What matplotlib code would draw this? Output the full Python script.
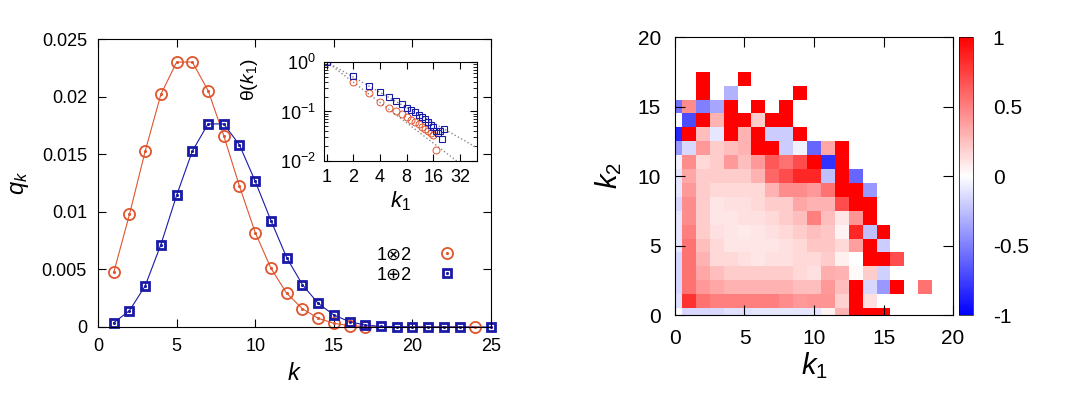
import numpy as np
import matplotlib
matplotlib.use('Agg')
import matplotlib.pyplot as plt
from matplotlib.ticker import FixedLocator, LogLocator, NullFormatter

plt.rcParams['font.family'] = ['Liberation Sans', 'DejaVu Sans']
plt.rcParams['mathtext.fontset'] = 'custom'
plt.rcParams['mathtext.rm'] = 'Liberation Sans'
plt.rcParams['mathtext.it'] = 'Liberation Sans:italic'

# Data: degree distributions q_k
k_otimes = [1, 2, 3, 4, 5, 6, 7, 8, 9, 10, 11, 12, 13, 14, 15, 16, 17, 24]
q_otimes = [0.00474, 0.00977, 0.01527, 0.0202, 0.0230, 0.0230, 0.02053, 0.0166,
            0.01222, 0.0082, 0.0051, 0.00293, 0.00159, 0.00076, 0.00032,
            0.00012, 0.00003, 0.0]
k_oplus = [1, 2, 3, 4, 5, 6, 7, 8, 9, 10, 11, 12, 13, 14, 15, 16, 17, 18,
           19, 20, 21, 22, 23, 25]
q_oplus = [0.00037, 0.00142, 0.00357, 0.00716, 0.01143, 0.01527, 0.01763,
           0.01763, 0.0158, 0.01265, 0.00924, 0.00603, 0.00368, 0.00206,
           0.00104, 0.00046, 0.00017, 0.00005, 0.00002, 0.00001, 0.0, 0.0,
           0.0, 0.0]

# Inset: theta(k1)
k1_otimes = [1, 2, 3, 4, 5, 6, 7, 8, 9, 10, 11, 12, 13, 14, 15, 16, 17]
theta_otimes = [1.0, 0.40, 0.232, 0.157, 0.12, 0.10, 0.087, 0.076, 0.068,
                0.061, 0.055, 0.049, 0.044, 0.040, 0.036, 0.033, 0.017]
k1_oplus = [1, 2, 3, 4, 5, 6, 7, 8, 9, 10, 11, 12, 13, 14, 15, 16, 17, 18,
            19, 20, 21]
theta_oplus = [1.0, 0.51, 0.333, 0.25, 0.198, 0.164, 0.14, 0.12, 0.106,
               0.096, 0.085, 0.077, 0.07, 0.062, 0.053, 0.048, 0.041, 0.036,
               0.040, 0.028, 0.045]
guide_k = [1, 50]
exp_oplus = -1.02
exp_otimes = -1.36

# Heatmap: rows k2 = 0..17, columns k1 = 0..18 (nan = no data)
n = np.nan
corr_rows = [
    [0, -0.15, -0.15, -0.15, -0.12, -0.12, -0.1, -0.1, -0.1, -0.1, -0.1, 0.05, 0.3, 1, 1, 1, n, n, n],
    [-0.12, 0.8, 0.55, 0.5, 0.5, 0.5, 0.5, 0.5, 0.45, 0.4, 0.42, 0.42, 0.18, 1, 0.12, n, n, n, n],
    [-0.15, 0.55, 0.4, 0.35, 0.3, 0.3, 0.3, 0.3, 0.3, 0.25, 0.25, 0.4, 0.25, 1, -0.15, -0.4, 1, n, 0.55],
    [-0.15, 0.55, 0.35, 0.25, 0.2, 0.2, 0.2, 0.2, 0.2, 0.15, 0.12, 0.32, 0.3, 0.02, 0.2, -0.18, n, n, n],
    [-0.15, 0.55, 0.3, 0.15, 0.15, 0.12, 0.1, 0.12, 0.12, 0.15, 0.15, 0.2, 0.06, 0.0, 1, 1, 0.7, n, n],
    [-0.1, 0.55, 0.25, 0.15, 0.1, 0.1, 0.1, 0.1, 0.12, 0.15, 0.22, 0.22, 0.15, 0.38, 1, -0.2, n, n, n],
    [-0.1, 0.5, 0.2, 0.12, 0.1, 0.08, 0.1, 0.12, 0.15, 0.2, 0.25, 0.22, 0.05, 0.85, -0.25, 1, n, n, n],
    [-0.1, 0.45, 0.2, 0.1, 0.1, 0.12, 0.12, 0.15, 0.2, 0.25, 0.5, 0.25, 0.1, 0.42, 1, n, n, n, n],
    [-0.15, 0.45, 0.2, 0.1, 0.12, 0.12, 0.15, 0.2, 0.2, 0.35, 0.3, 0.3, 0.7, 1, 1, n, n, n, n],
    [-0.1, 0.4, 0.2, 0.15, 0.15, 0.15, 0.15, 0.3, 0.45, 0.45, 0.4, 0.55, 1, 1, -0.4, n, n, n, n],
    [-0.1, 0.35, 0.2, 0.2, 0.2, 0.2, 0.3, 0.6, 0.7, 0.85, 0.85, -0.25, 1, -0.6, n, n, n, n, n],
    [-0.05, 0.45, 0.15, 0.2, 0.4, 0.25, 0.4, 0.65, 0.55, 0.7, 1, -0.8, 1, n, n, n, n, n, n],
    [-0.4, -0.15, 0.4, 0.2, 0.25, 0.3, 1, 1, -0.2, -0.05, -0.6, 0.35, 1, n, n, n, n, n, n],
    [-0.85, 1, 0.25, -0.1, 1, 0.3, 1, -0.2, -0.2, 1, n, n, n, n, n, n, n, n, n],
    [0, -0.7, 1, 0.3, 1, 1, 0.2, 1, 1, n, n, n, n, n, n, n, n, n, n],
    [-0.55, 0.45, -0.5, -0.35, 1, n, 1, n, 1, n, n, n, n, n, n, n, n, n, n],
    [n, n, 1, n, -0.3, n, n, n, n, 1, n, n, n, n, n, n, n, n, n],
    [n, n, 1, n, n, 1, n, n, n, n, n, n, n, n, n, n, n, n, n],
]

RED = '#e0552e'
BLUE = '#1a1aa8'
TICK_FS = 13


def style_axes(ax):
    ax.tick_params(direction='in', top=True, right=True, length=6,
                   labelsize=TICK_FS, pad=8)


def main():
    fig = plt.figure(figsize=(10.69, 4.05), dpi=100)

    # Left: q_k
    ax = fig.add_axes([0.0917, 0.1926, 0.3676, 0.711])
    ax.plot(k_otimes, q_otimes, '-', color=RED, lw=0.8, clip_on=False)
    ax.plot(k_oplus, q_oplus, '-', color=BLUE, lw=0.8, clip_on=False)
    circ = ax.plot(k_otimes, q_otimes, 'o', ms=8, mfc='none', mec=RED,
                   mew=1.3, clip_on=False)[0]
    circ_dot = ax.plot(k_otimes, q_otimes, '.', ms=2.5, color=RED,
                       clip_on=False)[0]
    sq = ax.plot(k_oplus, q_oplus, 's', ms=6, mfc='none', mec=BLUE, mew=2,
                 clip_on=False)[0]
    sq_dot = ax.plot(k_oplus, q_oplus, '.', ms=2.5, color=BLUE,
                     clip_on=False)[0]
    ax.set_xlim(0, 25)
    ax.set_ylim(0, 0.025)
    ax.set_xticks([0, 5, 10, 15, 20, 25])
    ax.set_yticks([0, 0.005, 0.01, 0.015, 0.02, 0.025])
    ax.set_yticklabels(['0', '0.005', '0.01', '0.015', '0.02', '0.025'])
    style_axes(ax)
    ax.set_xlabel('$k$', fontsize=17, labelpad=6)
    ax.set_ylabel('$q_k$', fontsize=17, labelpad=8)
    ax.legend([(circ, circ_dot), (sq, sq_dot)], ['1⊗2', '1⊕2'],
              loc='center right', bbox_to_anchor=(0.965, 0.215),
              frameon=False, markerfirst=False, fontsize=TICK_FS,
              handlelength=1.5, handletextpad=1.2, labelspacing=0.15)

    # Inset: theta(k1)
    ins = fig.add_axes([0.3031, 0.6025, 0.1431, 0.2444])
    kk = np.array(guide_k, dtype=float)
    ins.plot(kk, kk ** exp_oplus, ':', color='#8a8a8a', lw=1)
    ins.plot(kk, kk ** exp_otimes, ':', color='#8a8a8a', lw=1)
    ins.plot(k1_otimes, theta_otimes, 'o', ms=5, mfc='none', mec=RED, mew=0.7)
    ins.plot(k1_oplus, theta_oplus, 's', ms=4.5, mfc='none', mec=BLUE, mew=0.8)
    ins.set_xscale('log', base=2)
    ins.set_yscale('log')
    ins.set_xlim(0.93, 50)
    ins.set_ylim(0.01, 1)
    ins.xaxis.set_major_locator(FixedLocator([1, 2, 4, 8, 16, 32]))
    ins.set_xticklabels(['1', '2', '4', '8', '16', '32'])
    ins.xaxis.set_minor_formatter(NullFormatter())
    ins.yaxis.set_major_locator(FixedLocator([0.01, 0.1, 1]))
    ins.yaxis.set_minor_locator(LogLocator(base=10, subs=np.arange(2, 10)))
    ins.tick_params(which='both', direction='in', top=True, right=True,
                    labelsize=TICK_FS, pad=6)
    ins.tick_params(which='major', length=5)
    ins.tick_params(which='minor', length=3)
    ins.tick_params(axis='x', which='minor', length=0)
    ins.set_xlabel('$k_1$', fontsize=16, labelpad=2)
    ins.set_ylabel(r'θ($k_1$)', fontsize=14)
    ins.yaxis.set_label_coords(-0.42, 0.82)

    # Right: correlation heatmap
    hm = fig.add_axes([0.6314, 0.2222, 0.2601, 0.6864])
    data = np.full((20, 20), np.nan)
    for i, row in enumerate(corr_rows):
        data[i, :len(row)] = row
    edges = np.arange(data.shape[0] + 1) - 0.5
    mesh = hm.pcolormesh(edges, edges, data, cmap='bwr', vmin=-1, vmax=1)
    hm.set_xlim(0, 20)
    hm.set_ylim(0, 20)
    hm.set_xticks([0, 5, 10, 15, 20])
    hm.set_yticks([0, 5, 10, 15, 20])
    hm.tick_params(direction='in', top=True, right=True, length=7,
                   labelsize=15, pad=10)
    hm.set_xlabel('$k_1$', fontsize=21, labelpad=2)
    hm.set_ylabel('$k_2$', fontsize=21, labelpad=10)

    cax = fig.add_axes([0.8974, 0.2222, 0.0131, 0.6864])
    cb = fig.colorbar(mesh, cax=cax, ticks=[-1, -0.5, 0, 0.5, 1])
    cb.ax.set_yticklabels(['-1', '-0.5', '0', '0.5', '1'])
    cb.ax.tick_params(labelsize=15, length=0, pad=14)
    cb.outline.set_linewidth(0.5)

    fig.savefig('out.png', dpi=100)


if __name__ == '__main__':
    main()
